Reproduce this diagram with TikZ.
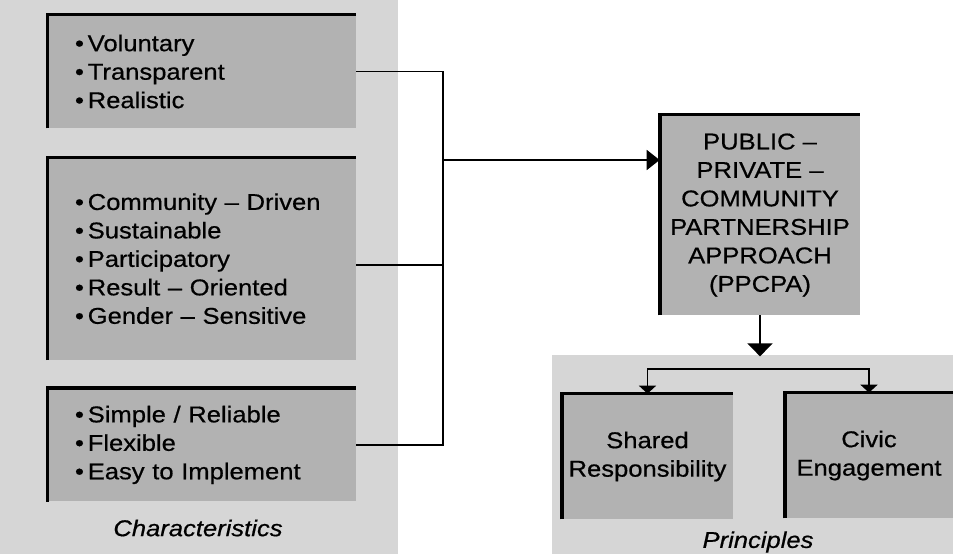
\documentclass[tikz,border=0pt]{standalone}
\usepackage{fontspec}
\setmainfont[FakeStretch=1.12,FakeBold=0.6]{Liberation Sans}
\usepackage{tikz}
\usetikzlibrary{calc,arrows.meta,positioning}
\definecolor{paper}{gray}{0.84}
\definecolor{shade}{gray}{0.70}
\newcommand{\bul}{\textbullet\,}

\begin{document}
\begin{tikzpicture}[
      every node/.style={font=\fontsize{13}{16.2}\selectfont},
      panel/.style={fill=shade,inner xsep=0.54cm,inner ysep=0pt,text width=5.08cm,align=left,minimum height=#1},
      core/.style={fill=shade,inner sep=0pt,minimum width=4cm,minimum height=4cm,align=center},
      prin/.style={fill=shade,inner sep=0pt,minimum width=#1,minimum height=2.5cm,align=center},
      frame/.style={line width=2.1pt},
      link/.style={line width=1.1pt},
      caption/.style={font=\fontsize{13}{16.2}\selectfont\itshape}]
      \useasboundingbox (0,0) rectangle (19.06,11.08);
      % speckled backgrounds of the scan
      \fill[paper] (0,0) rectangle (7.96,11.08);
      \fill[paper] (11.04,0) rectangle (19.06,3.98);
      % characteristics
      \node[panel=2.26cm] (b1) at (4.04,9.65) {\bul Voluntary\\\bul Transparent\\\bul Realistic};
      \node[panel=4.04cm,below=0.58cm of b1] (b2) {\bul Community -- Driven\\\bul Sustainable\\\bul Participatory\\\bul Result -- Oriented\\\bul Gender -- Sensitive};
      \node[panel=2.26cm,below=0.56cm of b2] (b3) {\bul Simple / Reliable\\\bul Flexible\\\bul Easy to Implement};
      \node[caption] (chr) at (3.96,0.52) {Characteristics};
      % approach
      \node[core] (ppcpa) at (15.2,6.78) {PUBLIC --\\PRIVATE --\\COMMUNITY\\PARTNERSHIP\\APPROACH\\(PPCPA)};
      % principles
      \node[prin=3.42cm] (shared) at (12.95,1.95) {Shared\\Responsibility};
      \node[prin=3.36cm] (civic) at (17.38,1.97) {Civic\\Engagement};
      \node[caption] (pri) at (15.16,0.24) {Principles};
      \foreach \b in {b1,b2,b3,ppcpa,shared,civic}
        \draw[frame] (\b.south west) -- (\b.north west) -- (\b.north east);
      \coordinate (jn) at (8.86,7.88);
      \draw[link] (b1.east) -| (jn |- b3.east) -- (b3.east);
      \draw[link] ($(b2.east)+(0,-0.12)$) -- (jn |- {$(b2.east)+(0,-0.12)$});
      \draw[link,-{Triangle[length=0.26cm,width=0.4cm]}] (jn) -- (jn -| ppcpa.west);
      \draw[link,-{Triangle[length=0.26cm,width=0.5cm]}] (ppcpa.south) -- ++(0,-0.82);
      \draw[link,{Triangle[length=0.16cm,width=0.34cm]}-{Triangle[length=0.16cm,width=0.34cm]}] (shared.north) -- ++(0,0.5) -| (civic.north);
    \end{tikzpicture}
\end{document}
